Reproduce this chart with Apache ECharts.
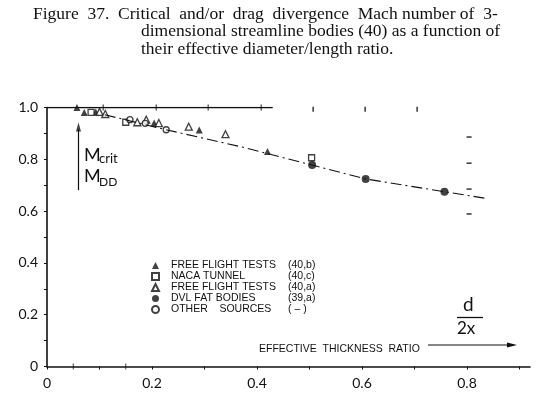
<!DOCTYPE html>
<html><head><meta charset="utf-8">
<script src="https://cdn.jsdelivr.net/npm/echarts@6/dist/echarts.min.js"></script>
<style>html,body{margin:0;padding:0;background:#fff}#c{width:540px;height:408px}</style>
</head><body><div id="c"></div>
<script>
// ---- data ----
const freeFlightB = [[0.057,1.0],[0.071,0.981],[0.093,0.983],[0.204,0.940],[0.290,0.913],[0.420,0.830]];
const nacaTunnel = [[0.084,0.981],[0.150,0.943],[0.504,0.806]];
const freeFlightA = [[0.100,0.983],[0.111,0.975],[0.172,0.943],[0.189,0.953],[0.213,0.940],[0.270,0.926],[0.340,0.897]];
const dvlFatBodies = [[0.505,0.778],[0.607,0.724],[0.757,0.675]];
const otherSources = [[0.158,0.953],[0.187,0.939],[0.227,0.914]];
const trendLine = [[0.11,0.972],[0.227,0.914],[0.368,0.849],[0.505,0.778],[0.607,0.724],[0.757,0.675],[0.836,0.649]];
const topFrameLine = [[0,1.0],[0.43,1.0]];
const topTicksOnLine = [0.107,0.208,0.307,0.408];
const topTicksFree = [0.507,0.606,0.705];
const rightTicksX = 0.804;
const rightTicksY = [0.886,0.785,0.685,0.589];
const extraXTicks = [0.05,0.15];
const mArrow = [[0.06,0.681],[0.06,0.915]];
const mArrowHead = [[0.06,0.925]];
const legendNames = ['FREE FLIGHT TESTS','NACA TUNNEL','FREE FLIGHT TESTS ','DVL FAT BODIES','OTHER    SOURCES'];
const legendRefs = ['(40,b)','(40,c)','(40,a)','(39,a)','( \u2013 )'];
const titleLine1 = 'Figure  37.  Critical  and/or  drag  divergence  Mach number of  3-';
const titleLine2 = 'dimensional streamline bodies (40) as a function of';
const titleLine3 = 'their effective diameter/length ratio.';
const xAxisTitle = 'EFFECTIVE  THICKNESS  RATIO';

const INK = '#111';
const chart = echarts.init(document.getElementById('c'), null, {renderer:'canvas'});
const refOf = {};
legendNames.forEach((n,i)=>refOf[n]=legendRefs[i]);
const labelFmt = v => { const t = Math.round(v*10); if (t%2) return ''; return t===0 ? '0' : (t===10 ? '1.0' : (t/10).toFixed(1)); };
const openStyle = {color:'#fff', borderColor:INK, borderWidth:1.3};
const fillStyle = {color:INK};

chart.setOption({
  animation:false,
  backgroundColor:'#fff',
  title:[
    {text:titleLine1, left:33, top:5, padding:0, textStyle:{fontFamily:'Liberation Serif', fontSize:17.5, fontWeight:'normal', color:INK}},
    {text:titleLine2+'\n'+titleLine3, left:141, top:22, padding:0, textStyle:{fontFamily:'Liberation Serif', fontSize:17.5, fontWeight:'normal', color:INK, lineHeight:18}}
  ],
  grid:{left:47, right:10, top:107.5, bottom:41.5, containLabel:false},
  xAxis:{type:'value', min:0, max:0.92, interval:0.1,
    axisLine:{lineStyle:{color:INK, width:1.6}},
    axisTick:{length:3, lineStyle:{color:INK, width:1}},
    axisLabel:{formatter:labelFmt, margin:10, fontFamily:'Lato', fontSize:14, color:INK, showMaxLabel:false},
    splitLine:{show:false}},
  yAxis:{type:'value', min:0, max:1.0, interval:0.1,
    axisLine:{show:true, lineStyle:{color:INK, width:1.6}},
    axisTick:{show:true, length:3, lineStyle:{color:INK, width:1}},
    axisLabel:{formatter:labelFmt, margin:9, fontFamily:'Lato', fontSize:14, color:INK},
    splitLine:{show:false}},
  legend:{orient:'vertical', left:146, top:255, itemWidth:7, itemHeight:7, itemGap:0,
    data:legendNames,
    textStyle:{fontFamily:'Liberation Sans', fontSize:10.5, color:INK, lineHeight:11,
      rich:{sp:{width:7}, n:{width:117, fontFamily:'Liberation Sans', fontSize:10.5, color:INK}, r:{fontFamily:'Liberation Sans', fontSize:10.5, color:INK}}},
    formatter:n=>'{sp|}{n|'+n+'}{r|'+refOf[n]+'}'},
  series:[
    {type:'line', name:'frame', data:topFrameLine, symbol:'none', lineStyle:{color:INK, width:1.4}, silent:true},
    {type:'scatter', name:'topTicks', data:topTicksOnLine.map(x=>[x,1.0]), symbol:'rect', symbolSize:[1.2,6], itemStyle:fillStyle, clip:false, silent:true},
    {type:'scatter', name:'topTicks2', data:topTicksFree.map(x=>[x,0.993]), symbol:'rect', symbolSize:[1.6,5], itemStyle:fillStyle, clip:false, silent:true},
    {type:'scatter', name:'rightTicks', data:rightTicksY.map(y=>[rightTicksX,y]), symbol:'rect', symbolSize:[5,1.6], itemStyle:fillStyle, clip:false, silent:true},
    {type:'scatter', name:'xTicks', data:extraXTicks.map(x=>[x,0]), symbol:'rect', symbolSize:[1,6], itemStyle:fillStyle, clip:false, silent:true},
    {type:'line', name:'arrowM', data:mArrow, symbol:'none', lineStyle:{color:INK, width:1.2}, clip:false, silent:true},
    {type:'scatter', name:'arrowHead', data:mArrowHead, symbol:'triangle', symbolSize:[5,9], itemStyle:fillStyle, clip:false, silent:true},
    {type:'line', name:'trend', data:trendLine, symbol:'none', lineStyle:{color:INK, width:1.1, type:[11,4,2,4]}, silent:true},
    {type:'scatter', name:legendNames[0], data:freeFlightB, symbol:'triangle', symbolSize:7, itemStyle:fillStyle, clip:false},
    {type:'scatter', name:legendNames[1], data:nacaTunnel, symbol:'rect', symbolSize:6, itemStyle:openStyle, clip:false},
    {type:'scatter', name:legendNames[2], data:freeFlightA, symbol:'triangle', symbolSize:7, itemStyle:openStyle, clip:false},
    {type:'scatter', name:legendNames[3], data:dvlFatBodies, symbol:'circle', symbolSize:8, itemStyle:fillStyle, clip:false},
    {type:'scatter', name:legendNames[4], data:otherSources, symbol:'circle', symbolSize:6, itemStyle:openStyle, clip:false}
  ],
  graphic:[
    {type:'text', left:84, top:146, style:{text:'M', font:'18px Lato', fill:INK}},
    {type:'text', left:99, top:152, style:{text:'crit', font:'13px Lato', fill:INK}},
    {type:'text', left:84, top:167, style:{text:'M', font:'18px Lato', fill:INK}},
    {type:'text', left:99, top:176, style:{text:'DD', font:'12px Lato', fill:INK}},
    {type:'text', left:259, top:344, style:{text:xAxisTitle, font:'10.5px "Liberation Sans"', fill:INK}},
    {type:'line', shape:{x1:428, y1:345, x2:514, y2:345}, style:{stroke:INK, lineWidth:1.2}},
    {type:'polygon', shape:{points:[[517,345],[507,342.5],[507,347.5]]}, style:{fill:INK}},
    {type:'text', left:463, top:295, style:{text:'d', font:'19px Lato', fill:INK}},
    {type:'line', shape:{x1:457, y1:317.5, x2:483, y2:317.5}, style:{stroke:INK, lineWidth:1.3}},
    {type:'text', left:457, top:320, style:{text:'2x', font:'17px Lato', fill:INK}}
  ]
});
</script></body></html>
